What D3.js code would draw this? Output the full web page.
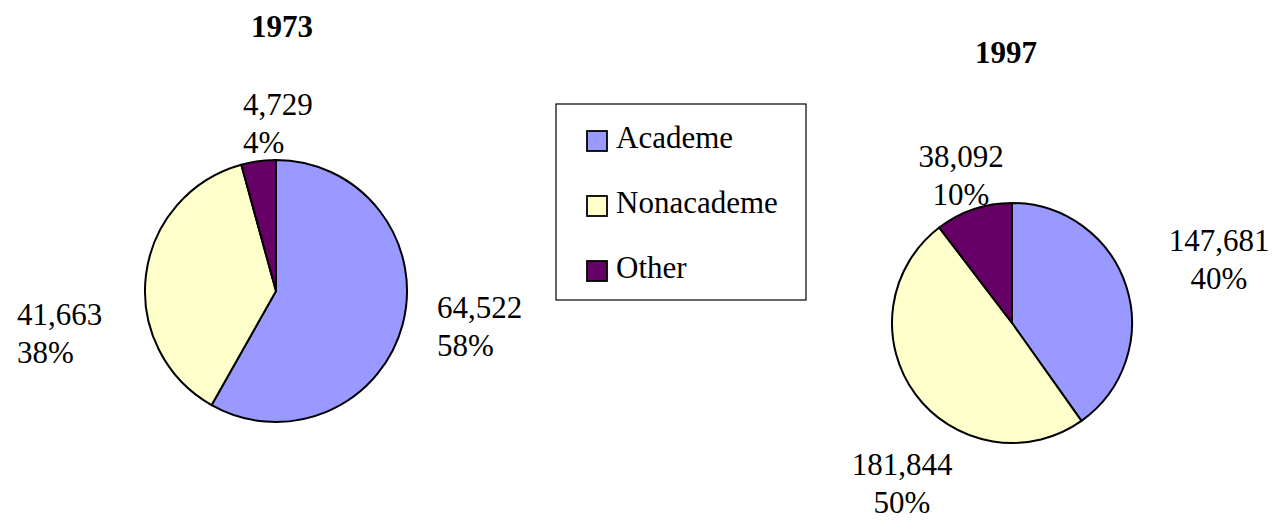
<!DOCTYPE html>
<html>
<head>
<meta charset="utf-8">
<script src="https://cdn.jsdelivr.net/npm/d3@7"></script>
</head>
<body style="margin:0">
<svg id="chart" width="1275" height="522"></svg>
<script>
// ---- data ----
const categories = ["Academe", "Nonacademe", "Other"];
const years = ["1973", "1997"];
const values1973 = [64522, 41663, 4729];
const values1997 = [147681, 181844, 38092];
const valueLabels1973 = ["64,522", "41,663", "4,729"];
const valueLabels1997 = ["147,681", "181,844", "38,092"];
const percentLabels1973 = ["58%", "38%", "4%"];
const percentLabels1997 = ["40%", "50%", "10%"];

// ---- styling / layout ----
const FONT = "Liberation Serif";
const colors = ["#9999FF", "#FFFFCC", "#660066"];
const fontSize = 31;
const lineGap = 38;

const pies = [
  { year: years[0], values: values1973, valueLabels: valueLabels1973, pct: percentLabels1973,
    cx: 276, cy: 291, r: 131, title: { x: 282, y: 37 },
    labels: [ { dx: 161, dy: 27, anchor: "start" },
              { dx: -259, dy: 34, anchor: "start" },
              { dx: -33, dy: -176, anchor: "start" } ] },
  { year: years[1], values: values1997, valueLabels: valueLabels1997, pct: percentLabels1997,
    cx: 1012, cy: 323, r: 120, title: { x: 1006, y: 63 },
    labels: [ { dx: 207, dy: -72, anchor: "middle" },
              { dx: -110, dy: 152, anchor: "middle" },
              { dx: -51, dy: -156, anchor: "middle" } ] }
];

const svg = d3.select("#chart");
const color = d3.scaleOrdinal().domain(categories).range(colors);
const pieGen = d3.pie().sort(null).value(d => d.value);

function addText(x, y, str, opts = {}) {
  const t = svg.append("text")
    .attr("x", x).attr("y", y)
    .attr("text-anchor", opts.anchor || "start")
    .attr("font-family", FONT)
    .attr("font-size", opts.size || fontSize)
    .text(str);
  if (opts.weight) t.attr("font-weight", opts.weight);
  return t;
}

// legend
const legend = { x: 556, y: 104, w: 250, h: 196, sw: 20, itemX: 587, firstY: 148, step: 65 };
svg.append("rect")
  .attr("x", legend.x).attr("y", legend.y)
  .attr("width", legend.w).attr("height", legend.h)
  .attr("fill", "#fff").attr("stroke", "#000").attr("stroke-width", 1.2);
const ly = d3.scalePoint().domain(categories).range([legend.firstY, legend.firstY + legend.step * 2]);
categories.forEach(c => addText(legend.itemX + legend.sw + 9, ly(c), c));
svg.selectAll(".legsw").data(categories).join("rect").attr("class", "legsw")
  .attr("x", legend.itemX)
  .attr("y", d => ly(d) - 17)
  .attr("width", legend.sw).attr("height", legend.sw)
  .attr("fill", d => color(d))
  .attr("stroke", "#000").attr("stroke-width", 1.8);

// pies and their labels
pies.forEach(p => {
  const data = categories.map((c, i) => ({ cat: c, value: p.values[i], i }));
  const arcs = pieGen(data);
  const arc = d3.arc().innerRadius(0).outerRadius(p.r);
  const g = svg.append("g").attr("transform", `translate(${p.cx},${p.cy})`);
  g.selectAll("path").data(arcs).join("path")
    .attr("d", arc)
    .attr("fill", d => color(d.data.cat))
    .attr("stroke", "#000")
    .attr("stroke-width", 2)
    .attr("stroke-linejoin", "round");

  arcs.forEach((a, i) => {
    const L = p.labels[i];
    addText(p.cx + L.dx, p.cy + L.dy, p.valueLabels[i], { anchor: L.anchor });
    addText(p.cx + L.dx, p.cy + L.dy + lineGap, p.pct[i], { anchor: L.anchor });
  });
});

// titles
pies.forEach(p => addText(p.title.x, p.title.y, p.year, { anchor: "middle", weight: "bold" }));
</script>
</body>
</html>
